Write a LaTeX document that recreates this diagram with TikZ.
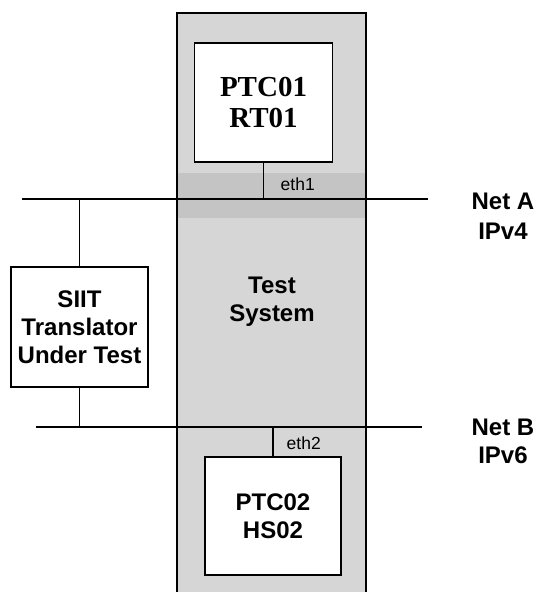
\documentclass[tikz,border=0pt]{standalone}
\usepackage{fontspec}
\setmainfont{Liberation Serif}
\setsansfont{Liberation Sans}
\begin{document}
\begin{tikzpicture}[x=1pt,y=-1pt,
  line width=1.4pt,
  box/.style={draw,fill=white,inner sep=0pt,align=center},
  arial/.style={font=\sffamily\bfseries\fontsize{24}{28}\selectfont,align=center},
  ethlbl/.style={font=\sffamily\fontsize{17.5}{19}\selectfont,inner sep=0pt,anchor=west}]
\definecolor{tsfill}{RGB}{214,214,214}
\definecolor{tsband}{RGB}{196,196,196}
\useasboundingbox (0,0) rectangle (538,592);
% test system column
\fill[tsfill] (177,13) rectangle (366,592);
\fill[tsband] (177,173) rectangle (366,218);
\draw (177,592) -- (177,13) -- (366,13) -- (366,592);
% nets
\coordinate (aL) at (22,199);
\coordinate (aR) at (428,199);
\coordinate (bL) at (36,427);
\coordinate (bR) at (422,427);
\draw (aL) -- (aR);
\draw (bL) -- (bR);
% boxes
\node[box,minimum width=138,minimum height=119,font=\bfseries\fontsize{29}{31}\selectfont] (ptc1) at (263.5,102.5) {PTC01\\RT01};
\node[box,arial,minimum width=137,minimum height=120] (siit) at (79.5,327) {SIIT\\Translator\\Under Test};
\node[box,arial,minimum width=136,minimum height=118] (ptc2) at (273,516) {PTC02\\HS02};
\node[arial] (ts) at (272,302) {Test\\System};
\node[arial,font=\sffamily\bfseries\fontsize{24}{30}\selectfont] (neta) at (503,216) {Net A\\IPv4};
\node[arial] (netb) at (503,441) {Net B\\IPv6};
% connectors
\draw (ptc1.south) -- (ptc1.south |- aL);
\draw (siit.north) -- (siit.north |- aL);
\draw (siit.south) -- (siit.south |- bL);
\draw (ptc2.north) -- (ptc2.north |- bL);
\node[ethlbl] (e1) at (280,184) {eth1};
\node[ethlbl] (e2) at (286,443) {eth2};
\end{tikzpicture}
\end{document}
